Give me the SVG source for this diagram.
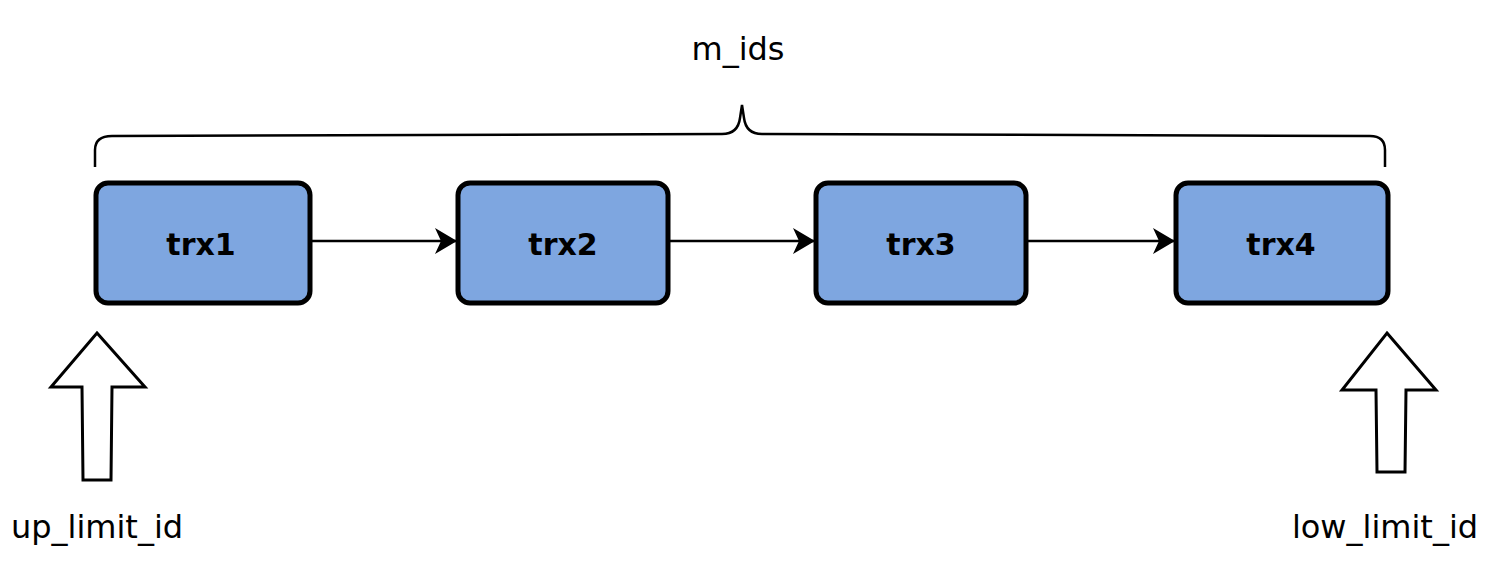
<svg xmlns="http://www.w3.org/2000/svg" width="1488" height="576" viewBox="0 0 1488 576">
<style>
.box{fill:#7EA6E0;stroke:#000;stroke-width:5;}
.lbl{font-family:"DejaVu Sans",Verdana,sans-serif;font-size:30px;font-weight:bold;text-anchor:middle;fill:#000;}
.txt{font-family:"DejaVu Sans",Verdana,sans-serif;font-size:32px;text-anchor:middle;fill:#000;}
.conn{stroke:#000;stroke-width:2.5;fill:none;}
.blk{fill:#fff;stroke:#000;stroke-width:3;stroke-linejoin:miter;}
</style>
<defs>
<marker id="ah" viewBox="0 0 22 26" refX="21" refY="13" markerWidth="22" markerHeight="26" markerUnits="userSpaceOnUse" orient="auto">
<path d="M0,0 L22,13 L0,26 L6,13 Z" fill="#000"/>
</marker>
</defs>
<rect width="1488" height="576" fill="#fff"/>
<g id="brace">
<path d="M95,167 L95,150 Q95,136 112,136 L722,134 Q738,134 740,118 L742,105 L744,118 Q746,134 762,134 L1370,136 Q1385,136 1385,150 L1385,167" fill="none" stroke="#000" stroke-width="2.5"/>
</g>
<g id="mids"><text class="txt" x="738" y="60">m_ids</text></g>
<g id="trx1"><rect class="box" x="96" y="183" width="214" height="120" rx="12"/><text class="lbl" x="201" y="255">trx1</text></g>
<g id="trx2"><rect class="box" x="458" y="183" width="210" height="120" rx="12"/><text class="lbl" x="563" y="255">trx2</text></g>
<g id="trx3"><rect class="box" x="816" y="183" width="210" height="120" rx="12"/><text class="lbl" x="921" y="255">trx3</text></g>
<g id="trx4"><rect class="box" x="1176" y="183" width="212" height="120" rx="12"/><text class="lbl" x="1281" y="255">trx4</text></g>
<g id="connectors">
<line class="conn" x1="312" y1="241" x2="456" y2="241" marker-end="url(#ah)"/>
<line class="conn" x1="670" y1="241" x2="814" y2="241" marker-end="url(#ah)"/>
<line class="conn" x1="1028" y1="241" x2="1174" y2="241" marker-end="url(#ah)"/>
</g>
<g id="up_arrow"><path class="blk" d="M97,333 L145,387 L112,387 L111,480 L83,480 L82,387 L51,387 Z"/></g>
<g id="low_arrow"><path class="blk" d="M1387,333 L1436,390 L1406,390 L1405,472 L1377,472 L1376,390 L1342,390 Z"/></g>
<g id="up_label"><text class="txt" x="97" y="538">up_limit_id</text></g>
<g id="low_label"><text class="txt" x="1385" y="538">low_limit_id</text></g>
</svg>
